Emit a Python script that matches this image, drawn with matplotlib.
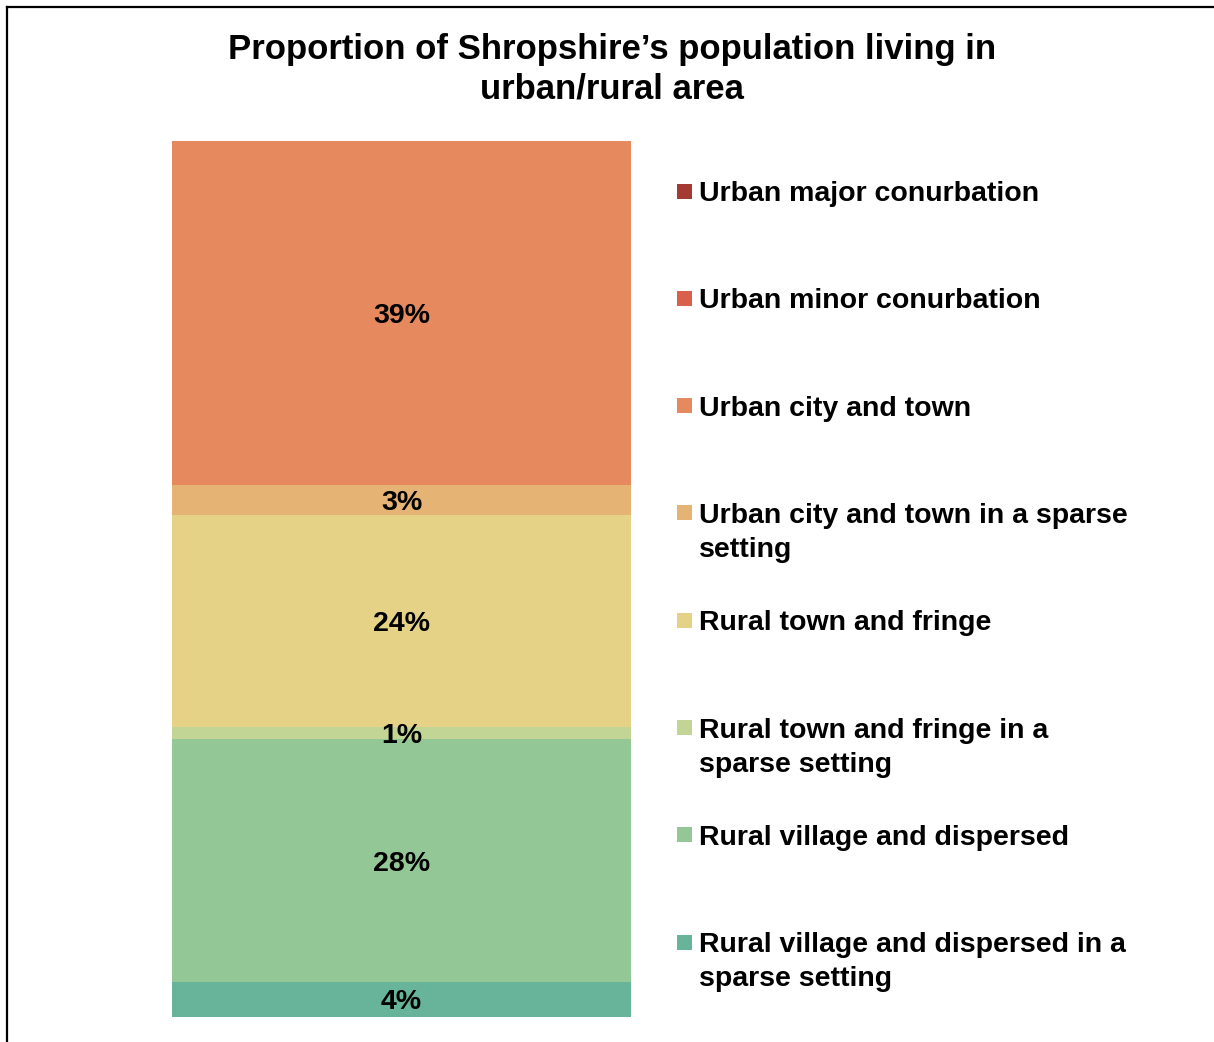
import matplotlib
matplotlib.use("Agg")
import matplotlib.pyplot as plt
from matplotlib.patches import Rectangle
from matplotlib.lines import Line2D

# ---- data ----
categories = [
    "Urban major conurbation",
    "Urban minor conurbation",
    "Urban city and town",
    "Urban city and town in a sparse setting",
    "Rural town and fringe",
    "Rural town and fringe in a sparse setting",
    "Rural village and dispersed",
    "Rural village and dispersed in a sparse setting",
]
legend_labels = [
    "Urban major conurbation",
    "Urban minor conurbation",
    "Urban city and town",
    "Urban city and town in a sparse\nsetting",
    "Rural town and fringe",
    "Rural town and fringe in a\nsparse setting",
    "Rural village and dispersed",
    "Rural village and dispersed in a\nsparse setting",
]
values = [0.0, 0.0, 39.3, 3.4, 24.2, 1.4, 27.7, 4.0]
colors = ["#A33B33", "#D9604A", "#E6895F", "#E5B373",
          "#E5D286", "#C3D594", "#94C796", "#67B49B"]
title = "Proportion of Shropshire\u2019s population living in\nurban/rural area"

W, H = 1214, 1042
plt.rcParams['font.family'] = ['Liberation Sans', 'DejaVu Sans']
fig = plt.figure(figsize=(W / 100, H / 100), dpi=100)

def fx(px):
    return px / W

def fy(py):
    return 1 - py / H

ax = fig.add_axes([fx(172), fy(1017), fx(631) - fx(172), fy(141) - fy(1017)])

# stack from bottom: last category at bottom
bottom = 0.0
for cat, val, col in reversed(list(zip(categories, values, colors))):
    if val > 0:
        ax.bar(0, val, width=1.0, bottom=bottom, color=col, edgecolor='none')
        ax.text(0, bottom + val / 2, f"{round(val):.0f}%", ha='center',
                va='center_baseline', fontsize=20.5, fontweight='bold',
                color='black')
    bottom += val

ax.set_xlim(-0.5, 0.5)
ax.set_ylim(0, bottom)
ax.axis('off')

# title
fig.text(fx(612), fy(49), title.split("\n")[0], ha='center', va='center',
         fontsize=25, fontweight='bold')
fig.text(fx(612), fy(89), title.split("\n")[1], ha='center', va='center',
         fontsize=25, fontweight='bold')

# legend (manual to align markers with first line)
row0, rowstep, linestep = 191, 107.3, 34
for i, (lab, col) in enumerate(zip(legend_labels, colors)):
    yc = row0 + i * rowstep
    fig.patches.append(Rectangle((fx(677), fy(yc + 7.5)), fx(15), 15 / H,
                                 transform=fig.transFigure, facecolor=col,
                                 edgecolor='none'))
    for j, line in enumerate(lab.split("\n")):
        fig.text(fx(699), fy(yc + j * linestep), line, ha='left',
                 va='center_baseline', fontsize=20.5, fontweight='bold')

# outer frame (left and top edges visible)
fig.lines.append(Line2D([fx(7), fx(7)], [fy(7), 0], transform=fig.transFigure,
                        color='black', linewidth=1.6))
fig.lines.append(Line2D([fx(7), 1], [fy(7), fy(7)], transform=fig.transFigure,
                        color='black', linewidth=1.6))

fig.savefig("out.png", dpi=100, facecolor='white')
